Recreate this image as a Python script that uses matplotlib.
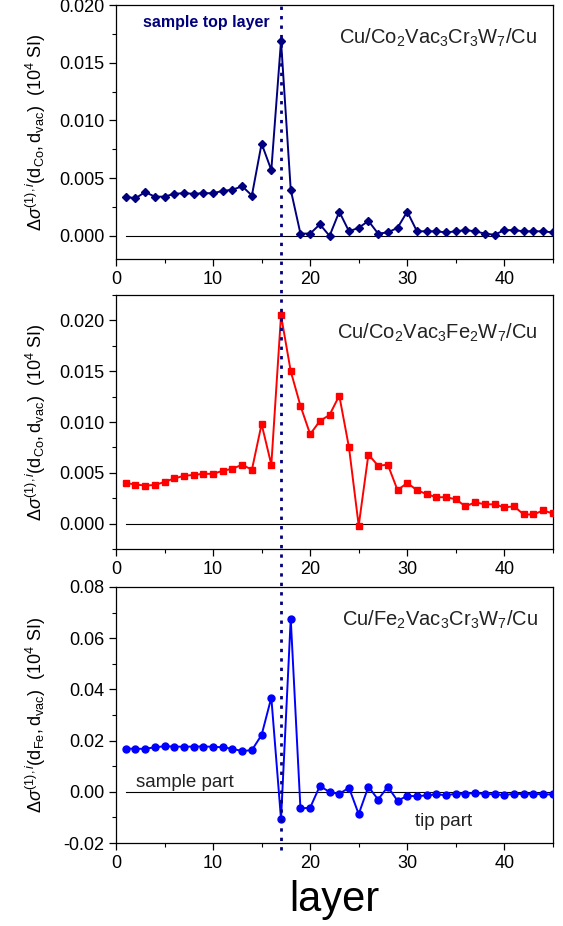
#!/usr/bin/env python3
"""Layer-resolved conductivity change for three Cu/.../Cu junctions."""

import matplotlib

matplotlib.use("Agg")
import matplotlib.pyplot as plt  # noqa: E402
from matplotlib.lines import Line2D  # noqa: E402
from matplotlib.ticker import FormatStrFormatter, MultipleLocator  # noqa: E402

LAYERS = list(range(1, 46))

CO_CR = [
    0.0034, 0.00325, 0.0038, 0.0034, 0.0034, 0.00365, 0.0037, 0.00365, 0.0037, 0.0037,
    0.0039, 0.0040, 0.0043, 0.0035, 0.0080, 0.0057, 0.0169, 0.0040, 0.0002, 0.0002,
    0.0010, 0.0000, 0.0021, 0.0004, 0.0007, 0.0013, 0.0002, 0.0003, 0.0007, 0.0021,
    0.0004, 0.0004, 0.0004, 0.0003, 0.0004, 0.0005, 0.0004, 0.0002, 0.0001, 0.0005,
    0.0005, 0.0004, 0.0004, 0.0004, 0.0003,
]
CO_FE = [
    0.0040, 0.00385, 0.00375, 0.0038, 0.0041, 0.00445, 0.0047, 0.0048, 0.0049, 0.0049,
    0.0052, 0.0054, 0.0058, 0.0053, 0.0098, 0.0058, 0.0205, 0.0150, 0.0116, 0.0088,
    0.0101, 0.0107, 0.0126, 0.0075, -0.0002, 0.0068, 0.0057, 0.0058, 0.0033, 0.0040,
    0.0033, 0.0029, 0.0026, 0.0026, 0.0024, 0.0017, 0.0021, 0.0019, 0.0019, 0.0016,
    0.0017, 0.0009, 0.0009, 0.0013, 0.0010,
]
FE_CR = [
    0.0169, 0.0168, 0.0168, 0.0174, 0.0178, 0.0177, 0.0176, 0.0177, 0.0177, 0.0176,
    0.0174, 0.0168, 0.0159, 0.0163, 0.0222, 0.0368, -0.0107, 0.0676, -0.0065, -0.0062,
    0.0023, -0.0001, -0.0008, 0.0016, -0.0087, 0.0020, -0.0030, 0.0020, -0.0035, -0.0016,
    -0.0017, -0.0014, -0.0010, -0.0013, -0.0008, -0.0007, -0.0005, -0.0008, -0.0010, -0.0012,
    -0.0008, -0.0009, -0.0008, -0.0010, -0.0010,
]

TOP_LAYER = 17

PANELS = [
    {
        "y": CO_CR, "color": "#00007F", "marker": "D", "ms": 4.5,
        "title": r"Cu/Co$_2$Vac$_3$Cr$_3$W$_7$/Cu", "title_y": 0.87,
        "ylabel": r"$\Delta\sigma^{(1),i}(\mathrm{d}_{\mathrm{Co}},\mathrm{d}_{\mathrm{vac}})$  (10$^4$ SI)",
        "ylim": (-0.002, 0.020), "major": 0.005, "minor": 0.0025, "fmt": "%.3f",
        "rect": (0.206, 0.7203, 0.776, 0.2743),
    },
    {
        "y": CO_FE, "color": "#FF0000", "marker": "s", "ms": 5,
        "title": r"Cu/Co$_2$Vac$_3$Fe$_2$W$_7$/Cu", "title_y": 0.85,
        "ylabel": r"$\Delta\sigma^{(1),i}(\mathrm{d}_{\mathrm{Co}},\mathrm{d}_{\mathrm{vac}})$  (10$^4$ SI)",
        "ylim": (-0.0025, 0.0225), "major": 0.005, "minor": 0.0025, "fmt": "%.3f",
        "rect": (0.206, 0.4071, 0.776, 0.2743),
    },
    {
        "y": FE_CR, "color": "#0000FF", "marker": "o", "ms": 5,
        "title": r"Cu/Fe$_2$Vac$_3$Cr$_3$W$_7$/Cu", "title_y": 0.87,
        "ylabel": r"$\Delta\sigma^{(1),i}(\mathrm{d}_{\mathrm{Fe}},\mathrm{d}_{\mathrm{vac}})$  (10$^4$ SI)",
        "ylim": (-0.02, 0.08), "major": 0.02, "minor": 0.01, "fmt": "%.2f",
        "rect": (0.206, 0.0896, 0.776, 0.2765),
    },
]


def main() -> int:
    plt.rcParams.update(
        {
            "font.family": "Liberation Sans",
            "mathtext.fontset": "custom",
            "mathtext.rm": "Liberation Sans",
            "mathtext.it": "Liberation Sans:italic",
            "mathtext.bf": "Liberation Sans:bold",
            "font.size": 12,
            "xtick.labelsize": 13,
            "ytick.labelsize": 13,
            "axes.linewidth": 0.9,
        }
    )
    fig = plt.figure(figsize=(5.63, 9.26), dpi=100)
    axes = []
    for p in PANELS:
        ax = fig.add_axes(p["rect"])
        ax.plot(
            LAYERS, p["y"], color=p["color"], marker=p["marker"],
            markersize=p["ms"], linewidth=1.4, zorder=3,
        )
        ax.plot([LAYERS[0], LAYERS[-1]], [0, 0], color="black", linewidth=0.8, zorder=2)
        ax.set_xlim(0, 45)
        ax.set_ylim(*p["ylim"])
        ax.xaxis.set_major_locator(MultipleLocator(10))
        ax.xaxis.set_minor_locator(MultipleLocator(5))
        ax.yaxis.set_major_locator(MultipleLocator(p["major"]))
        ax.yaxis.set_minor_locator(MultipleLocator(p["minor"]))
        ax.yaxis.set_major_formatter(FormatStrFormatter(p["fmt"]))
        ax.tick_params(which="major", direction="out", length=5, width=0.9, top=False, right=False)
        ax.tick_params(which="minor", direction="out", length=3, width=0.8, top=False, right=False)
        ax.set_ylabel(p["ylabel"], fontsize=13)
        ax.yaxis.set_label_coords(-0.155, 0.5)
        ax.text(0.965, p["title_y"], p["title"], transform=ax.transAxes, ha="right",
                va="center", fontsize=14.5, color="#222222")
        axes.append(ax)

    axes[0].text(0.062, 0.93, "sample top layer", transform=axes[0].transAxes,
                 ha="left", va="center", fontsize=11.5, fontweight="bold", color="#00007F")
    axes[2].text(0.045, 0.235, "sample part", transform=axes[2].transAxes,
                 ha="left", va="center", fontsize=13.5, color="#222222")
    axes[2].text(0.685, 0.085, "tip part", transform=axes[2].transAxes,
                 ha="left", va="center", fontsize=13.5, color="#222222")
    axes[2].set_xlabel("layer", fontsize=30, labelpad=6)

    # dotted marker of the sample top layer, running through all panels
    fig.canvas.draw()
    x_fig = fig.transFigure.inverted().transform(
        axes[0].transData.transform((TOP_LAYER, 0)))[0]
    fig.add_artist(Line2D([x_fig, x_fig], [0.082, 1.0], transform=fig.transFigure,
                          color="#00007F", linestyle=(0, (1.2, 2.2)), linewidth=2.0, zorder=5))

    fig.savefig("out.png", dpi=100)
    plt.close(fig)
    return 0


if __name__ == "__main__":
    raise SystemExit(main())
